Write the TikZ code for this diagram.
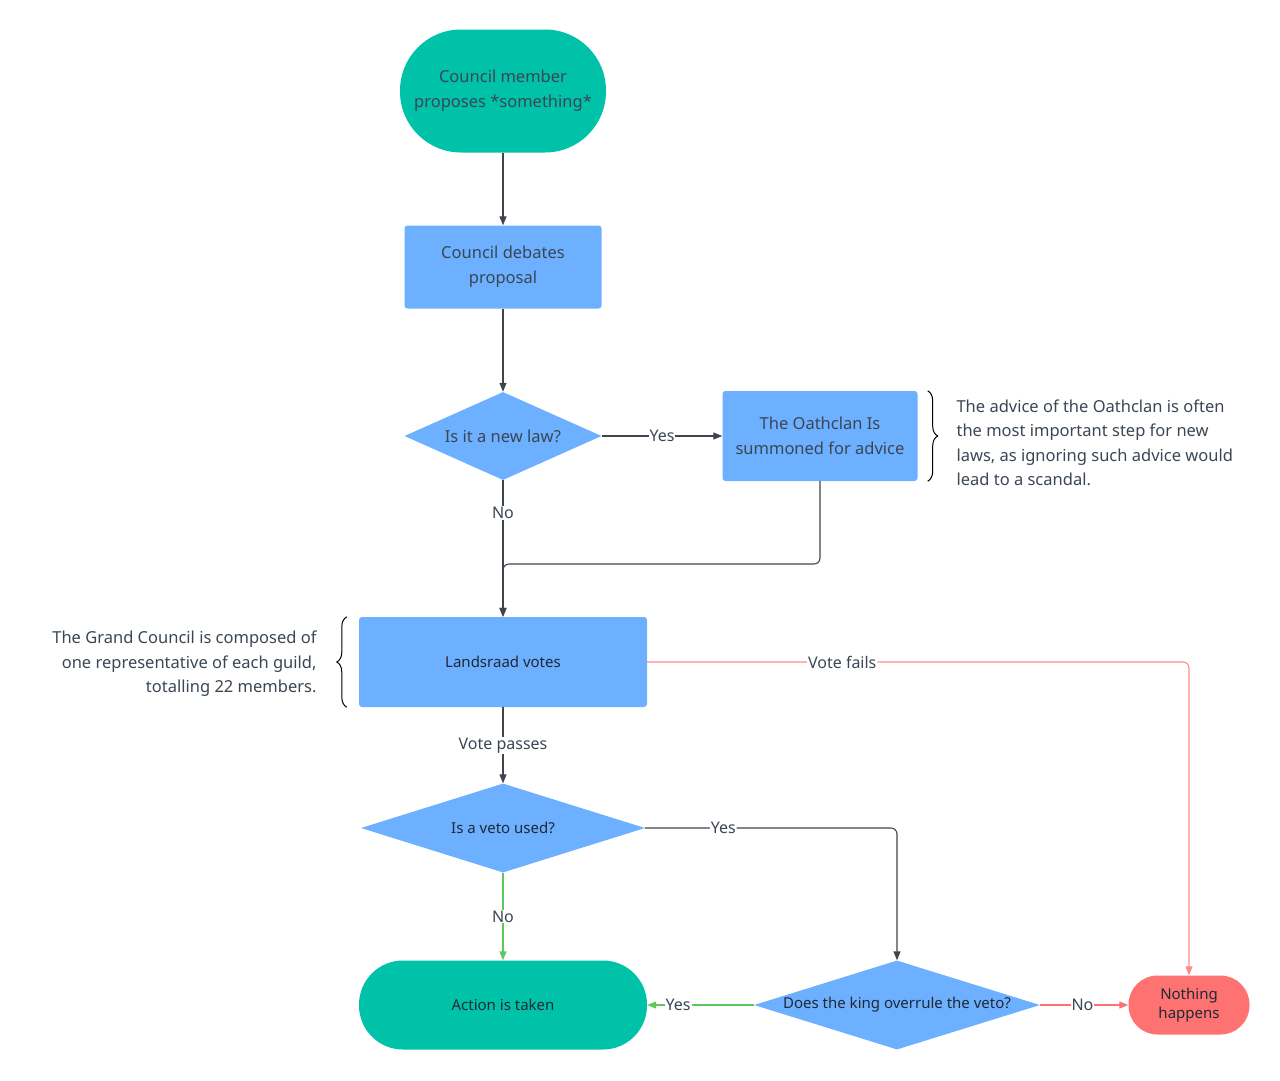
\documentclass[tikz,border=0pt]{standalone}
\usepackage{fontspec}
\setmainfont{Noto Sans}
\usepackage{xcolor}
\usepackage{tikz}
\usetikzlibrary{shapes.geometric,arrows.meta,decorations.pathreplacing}

\definecolor{teal}{HTML}{00C2A8}
\definecolor{sky}{HTML}{6DB0FF}
\definecolor{salmon}{HTML}{FF7272}
\definecolor{ink}{HTML}{1F2935}
\definecolor{slate}{HTML}{3A4654}
\definecolor{wire}{HTML}{3F454D}
\definecolor{okline}{HTML}{5CC95C}
\definecolor{failline}{HTML}{FF8A8A}

\begin{document}
\begin{tikzpicture}[x=1pt,y=-1pt,
    box/.style={rectangle, fill=sky, rounded corners=3pt, align=center, text=slate, font=\fontsize{16.5}{25}\selectfont},
    pill/.style={rectangle, fill=teal, align=center},
    ask/.style={diamond, fill=sky, inner sep=0pt, align=center},
    note/.style={text=slate, font=\fontsize{16.5}{24.5}\selectfont},
    tag/.style={fill=white, inner sep=1pt, text=slate, font=\fontsize{16}{18}\selectfont},
    flow/.style={draw=wire, line width=1.1pt, -{Triangle[length=9pt,width=7pt]}}]

    \useasboundingbox (0,0) rectangle (1280,1080);

    % Proposal
    \node[pill, rounded corners=61pt, minimum width=206pt, minimum height=123pt, text=slate,
          font=\fontsize{16.5}{25}\selectfont] (start) at (503,91) {Council member\\proposes *something*};
    \node[box, minimum width=197pt, minimum height=83pt] (debate) at (503,267) {Council debates\\proposal};

    % Oathclan step
    \node[ask, aspect=2.24, minimum width=197pt, minimum height=88pt, text=slate,
          font=\fontsize{16.5}{20}\selectfont] (newlaw) at (503,436) {Is it a new law?};
    \node[box, minimum width=195pt, minimum height=90pt] (oath) at (820,436) {The Oathclan Is\\summoned for advice};
    \node[note, anchor=west, align=left] (oathnote) at (953,443)
        {The advice of the Oathclan is often\\the most important step for new\\laws, as ignoring such advice would\\lead to a scandal.};
    \draw[line width=1pt, decorate, decoration={brace, amplitude=10pt}]
        ([xshift=10pt]oath.north east) -- ([xshift=10pt]oath.south east);
    \coordinate (merge) at (503,564);

    % Vote
    \node[box, minimum width=288pt, minimum height=90pt, text=ink,
          font=\fontsize{15}{20}\selectfont] (votes) at (503,662) {Landsraad votes};
    \node[note, anchor=east, align=right] (votenote) at (320,664)
        {The Grand Council is composed of\\one representative of each guild,\\totalling 22 members.};
    \draw[line width=1pt, decorate, decoration={brace, amplitude=10pt}]
        ([xshift=-12pt]votes.south west) -- ([xshift=-12pt]votes.north west);

    % Veto
    \node[ask, aspect=3.2, minimum width=284pt, minimum height=89pt, text=ink,
          font=\fontsize{15}{20}\selectfont] (veto) at (503,828) {Is a veto used?};
    \node[ask, aspect=3.2, minimum width=286pt, minimum height=89pt, text=ink,
          font=\fontsize{15}{20}\selectfont] (king) at (897,1005) {Does the king overrule the veto?};

    % Outcomes
    \node[pill, rounded corners=44pt, minimum width=288pt, minimum height=89pt, text=ink,
          font=\fontsize{15}{20}\selectfont] (action) at (503,1005) {Action is taken};
    \node[pill, fill=salmon, rounded corners=29pt, minimum width=121pt, minimum height=59pt, text=ink,
          font=\fontsize{15}{19}\selectfont] (nothing) at (1189,1005) {Nothing\\happens};

    \draw[flow] (start) -- (debate);
    \draw[flow] (debate) -- (newlaw);
    \draw[flow] (newlaw) -- node[tag] {Yes} (oath);
    \draw[flow] (newlaw) -- node[tag, pos=0.24] {No} (votes);
    \draw[flow, rounded corners=6pt] (oath.south) |- (merge) -- (votes.north);
    \draw[flow, draw=failline, -{Triangle[length=9pt,width=7pt,fill=failline]}, rounded corners=6pt]
        (votes.east) -| node[tag, pos=0.18] {Vote fails} (nothing.north);
    \draw[flow] (votes) -- node[tag] {Vote passes} (veto);
    \draw[flow, rounded corners=6pt] (veto.east) -| node[tag, pos=0.155] {Yes} (king.north);
    \draw[flow, draw=okline] (veto) -- node[tag] {No} (action);
    \draw[flow, draw=okline] (king) -- node[tag, pos=0.71] {Yes} (action);
    \draw[flow, draw=salmon] (king) -- node[tag, pos=0.48] {No} (nothing);
\end{tikzpicture}
\end{document}
